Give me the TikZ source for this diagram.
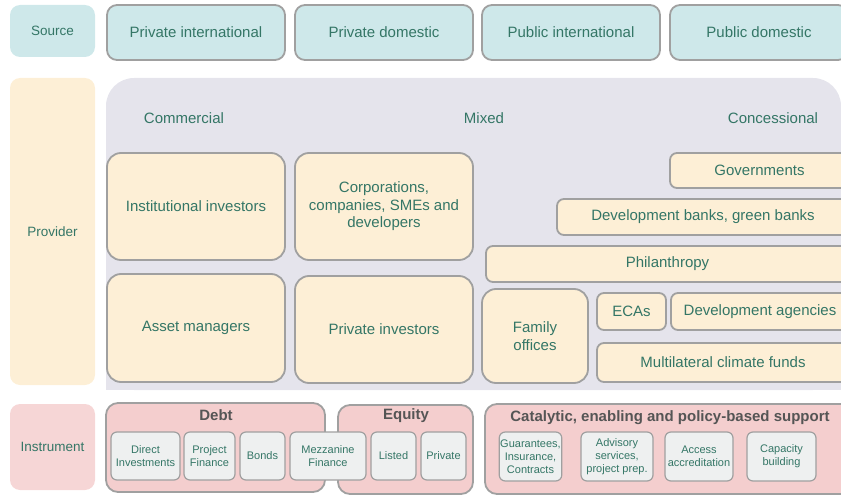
\documentclass[tikz,border=0pt]{standalone}
\usepackage{fontspec}
\setmainfont{Liberation Sans}
\definecolor{tealfill}{RGB}{206,232,234}
\definecolor{creamfill}{RGB}{253,239,214}
\definecolor{panelfill}{RGB}{229,228,236}
\definecolor{rosefill}{RGB}{246,214,214}
\definecolor{groupfill}{RGB}{244,206,206}
\definecolor{cellfill}{RGB}{238,240,240}
\definecolor{edgegrey}{RGB}{160,160,160}
\definecolor{labeltext}{RGB}{52,118,102}
\definecolor{titletext}{RGB}{85,85,85}
\begin{document}
\begin{tikzpicture}[x=1pt,y=-1pt,
  sz/.style 2 args={minimum width=#1pt, minimum height=#2pt},
  lbl/.style={text=labeltext, font=\fontsize{15}{17.5}\selectfont, align=center, inner sep=1pt},
  rowhead/.style={lbl, rounded corners=10pt, font=\fontsize{13.5}{16}\selectfont},
  srcbox/.style={lbl, fill=tealfill, draw=edgegrey, line width=1.8pt, rounded corners=10pt},
  provbox/.style={lbl, fill=creamfill, draw=edgegrey, line width=1.8pt, rounded corners=14pt},
  barbox/.style={lbl, fill=creamfill, draw=edgegrey, line width=1.8pt, rounded corners=7pt},
  groupbox/.style={fill=groupfill, draw=edgegrey, line width=1.8pt, rounded corners=12pt},
  grouptitle/.style={text=titletext, font=\fontsize{15}{17}\bfseries\selectfont, inner sep=0pt},
  cellbox/.style={lbl, fill=cellfill, draw=edgegrey, line width=1.2pt, rounded corners=6pt,
    font=\fontsize{11}{13}\selectfont}
]
\useasboundingbox (0,0) rectangle (841,495);
\clip (0,0) rectangle (841,495);

% ---- Source row ----
\node[rowhead, fill=tealfill, sz={85}{52}] (src) at (52.5,31) {Source};
\node[srcbox, sz={178}{55}] (pint) at (196,32.5) {Private international};
\node[srcbox, sz={178}{55}] (pdom) at (384,32.5) {Private domestic};
\node[srcbox, sz={178}{55}] (pubi) at (571,32.5) {Public international};
\node[srcbox, sz={178}{55}] (pubd) at (759,32.5) {Public domestic};

% ---- Provider panel ----
\node[rowhead, fill=creamfill, sz={85}{307}] (prov) at (52.5,231.5) {Provider};
\fill[panelfill, rounded corners=28pt] (106,78) rectangle (841,390);
\fill[panelfill] (106,150) rectangle (841,390);

\node[lbl] (comm) at (184,118) {Commercial};
\node[lbl] (mixed) at (484,118) {Mixed};
\node[lbl] (conc) at (773,118) {Concessional};

\node[provbox, sz={178}{107}] (inst) at (196,206.5) {Institutional investors};
\node[provbox, sz={178}{107}] (corp) at (384,206.5) {Corporations,\\companies, SMEs and\\developers};
\node[provbox, sz={178}{108}] (asset) at (196,328) {Asset managers};
\node[provbox, sz={178}{107}] (privinv) at (384,329.5) {Private investors};
\node[provbox, sz={106}{94}] (family) at (535,336) {Family\\offices};

\node[barbox, sz={179}{35}] (gov) at (759.5,170.5) {Governments};
\node[barbox, sz={292}{36}] (devbank) at (703,217) {Development banks, green banks};
\node[barbox, sz={363}{36}] (phil) at (667.5,264) {Philanthropy};
\node[barbox, sz={69}{37}] (ecas) at (631.5,311.5) {ECAs};
\node[barbox, sz={178}{37}] (devag) at (760,311.5) {Development agencies};
\node[barbox, sz={252}{39}] (mcf) at (723,362.5) {Multilateral climate funds};

% ---- Instrument row ----
\node[rowhead, fill=rosefill, sz={85}{86}] (instr) at (52.5,447) {Instrument};

\node[groupbox, sz={219}{89}] (debt) at (215.5,447.5) {};
\node[grouptitle] (debtT) at (216,415) {Debt};
\node[groupbox, sz={135}{89}] (equity) at (405.5,449.5) {};
\node[grouptitle] (equityT) at (406,416) {Equity};
\node[groupbox, sz={370}{90}] (cat) at (670,449) {};
\node[grouptitle] (catT) at (670,418) {Catalytic, enabling and policy-based support};

\node[cellbox, sz={69}{48}] (direct) at (145.5,456) {Direct\\Investments};
\node[cellbox, sz={51}{48}] (project) at (209.5,456) {Project\\Finance};
\node[cellbox, sz={45}{48}] (bonds) at (262.5,456) {Bonds};
\node[cellbox, sz={76}{48}] (mezz) at (328,456) {Mezzanine\\Finance};
\node[cellbox, sz={45}{48}] (listed) at (393.5,456) {Listed};
\node[cellbox, sz={45}{48}] (private) at (443.5,456) {Private};

\node[cellbox, sz={61}{49}] (guar) at (530.5,456.5) {Guarantees,\\Insurance,\\Contracts};
\node[cellbox, sz={72}{49}] (adv) at (617,456.5) {Advisory\\services,\\project prep.};
\node[cellbox, sz={68}{49}] (access) at (699,456.5) {Access\\accreditation};
\node[cellbox, sz={69}{49}] (capb) at (781.5,456.5) {Capacity\\building};
\end{tikzpicture}
\end{document}
